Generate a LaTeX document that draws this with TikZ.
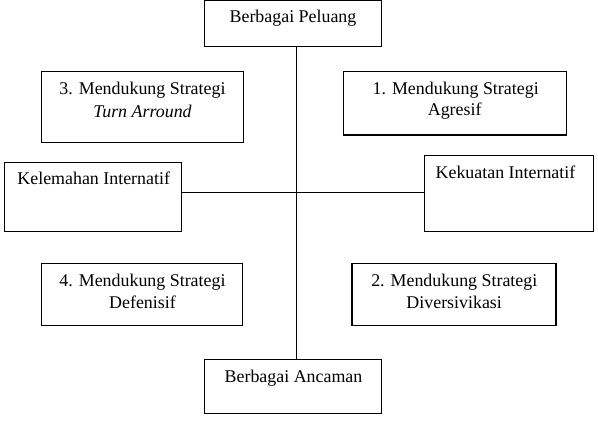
\documentclass[tikz,border=0pt]{standalone}
\usepackage{fontspec}
\setmainfont{Liberation Serif}
\begin{document}
\begin{tikzpicture}[x=1pt,y=-1pt,
  box/.style={draw,line width=1.1pt,inner sep=0pt,rectangle},
  txt/.style={anchor=base,inner sep=0pt,font=\fontsize{17.9}{21}\selectfont},
  conn/.style={line width=1.1pt}]
\useasboundingbox (0,0) rectangle (598,422);
% boxes (centre, width, height)
\node[box,minimum width=176.6pt,minimum height=46pt] (top) at (293,23.7) {};
\node[box,minimum width=201.6pt,minimum height=70.6pt] (b3) at (142.5,107) {};
\node[box,minimum width=223.3pt,minimum height=63.7pt] (b1) at (454.7,103.2) {};
\node[box,minimum width=177pt,minimum height=69.4pt] (kel) at (93.2,197) {};
\node[box,minimum width=169.3pt,minimum height=76pt] (kek) at (508.7,193.7) {};
\node[box,minimum width=200.6pt,minimum height=62pt] (b4) at (142,294.7) {};
\node[box,minimum width=204pt,minimum height=62pt] (b2) at (454,294.7) {};
\node[box,minimum width=176.6pt,minimum height=54.4pt] (bot) at (293,386.5) {};
% texts
\node[txt] (ttop) at (293,22.7) {Berbagai Peluang};
\node[txt] (t3a) at (142.5,94.3) {3. Mendukung Strategi};
\node[txt] (t3b) at (142.5,117.3) {\itshape Turn Arround};
\node[txt] (t1a) at (455.7,94.3) {1. Mendukung Strategi};
\node[txt] (t1b) at (454.7,115.7) {Agresif};
\node[txt] (tkel) at (93.7,185) {Kelemahan Internatif};
\node[txt] (tkek) at (505.5,179) {Kekuatan Internatif};
\node[txt] (t4a) at (142.5,287) {4. Mendukung Strategi};
\node[txt] (t4b) at (142.5,308.7) {Defenisif};
\node[txt] (t2a) at (454.3,287) {2. Mendukung Strategi};
\node[txt] (t2b) at (454.2,308.7) {Diversivikasi};
\node[txt] (tbot) at (293.5,382.7) {Berbagai Ancaman};
% axes
\coordinate (c) at (296.3,192.7);
\draw[conn] (c |- top.south) -- (c |- bot.north);
\draw[conn] (kel.east |- c) -- (kek.west |- c);
\end{tikzpicture}
\end{document}
